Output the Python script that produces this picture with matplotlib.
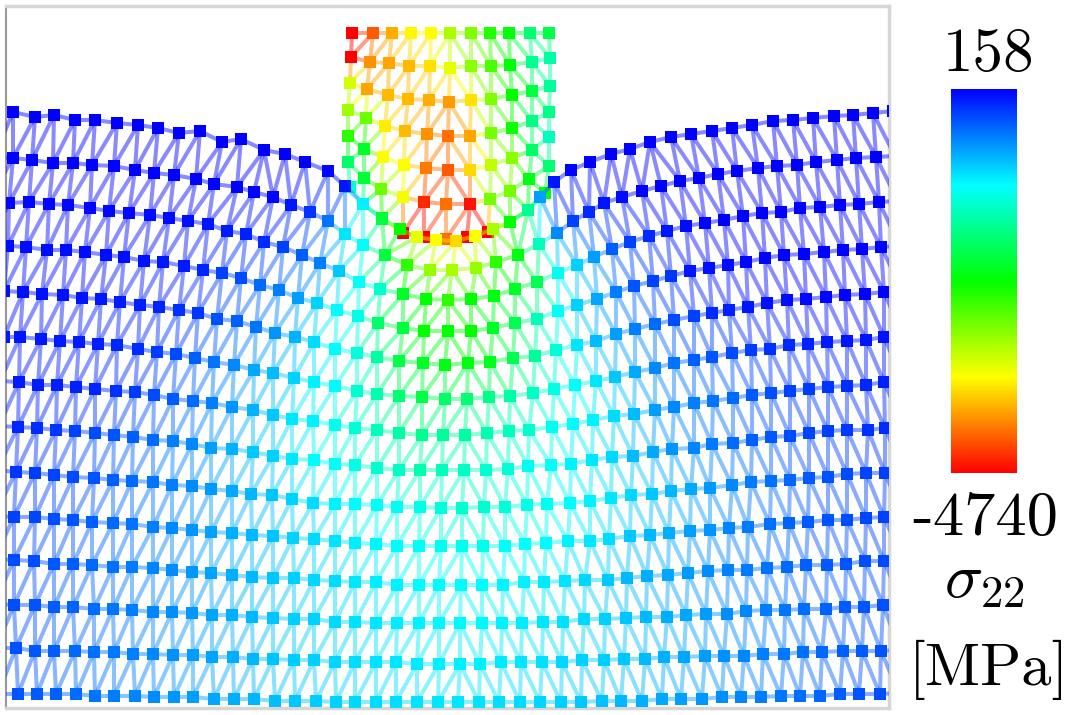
import numpy as np
import matplotlib
matplotlib.use('Agg')
import matplotlib.pyplot as plt
from matplotlib.collections import LineCollection
from matplotlib.colors import LinearSegmentedColormap, Normalize
from matplotlib.cm import ScalarMappable

plt.rcParams['mathtext.fontset'] = 'cm'

# nodes as (x, y, sigma_22), mesh coordinates
row_01 = [(13,112,158),(35,117,158),(54,115,158),(75,120,158),(95,120,158),(117,123,158),(138,125,158),(158,128,158),
          (179,133,158),(200,131,158),(222,142,158),(241,139,158),(264,150,158),(285,154,158),(305,162,158),(328,171,120),
          (345,186,50),(363,204,-1000),(382,219,-2000),(400,229,-2300),(417,237,-3400),(436,240,-3500),(456,241,-3700),
          (475,236,-3500),(493,229,-3100),(510,222,-2300),(528,210,-1600),(540,197,-600),(554,182,50),(571,170,130),
          (590,162,158),(611,154,158),(630,149,158),(650,142,158),(671,137,158),(691,134,158),(712,131,158),(732,128,158),
          (752,125,158),(773,121,158),(793,120,158),(813,118,158),(834,116,158),(853,115,158),(873,113,158),(893,111,158)]
row_02 = [(-6,157,140),(13,158,140),(32,160,140),(53,163,140),(73,163,140),(92,165,140),(114,166,140),(135,170,140),
          (154,173,140),(174,175,140),(196,179,140),(214,184,140),(237,187,140),(254,192,130),(273,197,130),(291,205,50),
          (310,212,-100),(328,221,-400),(345,234,-950),(363,245,-1100),(385,255,-2000),(407,265,-2500),(430,270,-3000),
          (452,270,-3100),(476,268,-3000),(496,262,-2500),(518,255,-2200),(539,244,-1400),(557,233,-500),(573,221,-150),
          (589,212,-50),(604,203,60),(622,197,100),(642,191,140),(661,186,150),(680,181,150),(699,178,150),(718,174,150),
          (737,171,150),(758,168,150),(777,166,150),(797,165,150),(816,162,150),(837,160,150),(856,158,150),(876,157,150),
          (895,156,150)]
row_03 = [(-11,201,120),(9,203,120),(29,202,120),(49,204,120),(68,205,120),(90,208,120),(109,211,120),(129,213,120),
          (150,215,100),(169,218,100),(188,221,80),(208,224,50),(227,231,30),(246,234,0),(264,242,-50),(283,247,-150),
          (302,255,-300),(320,263,-450),(339,271,-800),(359,282,-1100),(380,289,-1300),(403,294,-2100),(426,299,-2300),
          (448,300,-2500),(471,299,-2300),(494,296,-2200),(515,289,-2100),(537,282,-1900),(558,273,-1150),(577,265,-850),
          (594,257,-600),(612,249,-300),(630,242,-150),(649,236,-50),(667,231,50),(686,226,100),(705,223,130),(724,220,150),
          (743,216,150),(762,213,150),(781,212,150),(800,208,150),(820,207,150),(840,205,150),(859,204,150),(879,202,150),
          (898,201,150)]
row_04 = [(-11,245,100),(8,246,100),(26,247,100),(47,250,100),(66,250,100),(85,252,100),(106,255,90),(124,257,80),
          (144,261,70),(163,262,50),(184,266,30),(203,270,-30),(222,273,-150),(241,278,-200),(260,285,-350),(279,290,-450),
          (298,298,-600),(317,303,-850),(337,310,-1050),(358,316,-1200),(378,323,-1800),(403,328,-2000),(424,331,-2300),
          (448,331,-2300),(471,331,-2300),(493,328,-2100),(515,323,-1900),(537,319,-1400),(558,311,-1100),(577,305,-850),
          (597,299,-650),(616,292,-450),(634,286,-250),(653,281,-150),(671,276,-100),(690,271,50),(709,268,80),(728,265,100),
          (746,262,120),(765,258,130),(784,255,140),(804,254,140),(824,252,140),(843,250,140),(862,249,140),(881,247,140),
          (900,246,140)]
row_05 = [(4,291,80),(23,292,80),(42,294,80),(63,295,70),(82,298,60),(101,299,40),(120,302,20),(140,305,0),(159,307,-20),
          (179,310,-80),(198,313,-100),(217,319,-230),(237,321,-300),(256,327,-400),(275,333,-550),(295,337,-700),
          (314,342,-900),(335,349,-1050),(357,353,-1250),(377,357,-1500),(399,361,-1950),(423,363,-2100),(445,365,-2200),
          (468,363,-2200),(490,362,-2150),(513,358,-1900),(535,356,-1550),(556,350,-1250),(577,345,-950),(596,341,-750),
          (616,334,-600),(635,329,-450),(655,324,-350),(674,320,-200),(694,316,-150),(712,313,-50),(729,310,0),(748,307,50),
          (767,303,80),(787,300,100),(806,299,110),(826,297,120),(845,295,130),(865,294,130),(884,292,130),(903,291,130)]
row_06 = [(-15,336,50),(4,337,50),(20,337,50),(41,339,40),(60,341,30),(79,342,20),(98,344,0),(117,345,-30),(138,349,-60),
          (157,352,-130),(176,354,-200),(195,358,-300),(214,362,-400),(234,365,-500),(254,370,-650),(273,373,-750),
          (294,378,-850),(314,382,-1000),(335,386,-1050),(357,391,-1300),(377,394,-1450),(399,396,-1750),(422,397,-1950),
          (445,399,-1800),(467,399,-1750),(489,397,-1650),(510,396,-1500),(533,393,-1350),(554,389,-1200),(575,385,-1100),
          (596,381,-950),(615,377,-800),(635,372,-650),(655,368,-500),(674,363,-400),(694,360,-300),(712,357,-250),
          (732,353,-200),(751,350,-130),(770,349,-80),(789,345,-50),(808,344,0),(827,342,30),(847,341,50),(866,340,60),
          (884,337,70),(903,336,70)]
row_07 = [(0,381,30),(19,382,30),(38,385,20),(57,385,10),(76,387,0),(95,389,-20),(116,391,-80),(135,392,-120),(154,395,-200),
          (173,399,-280),(193,401,-350),(212,403,-450),(232,407,-550),(253,410,-700),(273,415,-800),(292,419,-950),
          (313,421,-1000),(335,425,-1150),(355,428,-1250),(377,430,-1400),(399,433,-1500),(422,435,-1600),(443,435,-1550),
          (465,435,-1500),(487,433,-1450),(509,431,-1400),(529,430,-1300),(552,427,-1150),(573,424,-1050),(593,420,-1000),
          (614,416,-900),(634,414,-750),(655,410,-600),(674,407,-500),(694,403,-450),(713,401,-400),(733,398,-350),
          (752,395,-280),(771,393,-220),(790,391,-150),(809,389,-130),(828,387,-100),(847,386,-70),(866,385,-30),(884,382,0),
          (903,381,0)]
row_08 = [(-1,426,-30),(18,427,-30),(37,428,-60),(56,430,-100),(75,431,-150),(95,433,-200),(114,435,-250),(133,437,-300),
          (153,440,-350),(173,441,-450),(192,444,-500),(211,448,-600),(232,449,-700),(253,452,-800),(273,456,-850),
          (292,459,-950),(314,460,-1050),(335,464,-1100),(355,465,-1200),(377,468,-1300),(399,470,-1350),(420,470,-1450),
          (442,470,-1400),(464,470,-1350),(486,470,-1300),(508,469,-1250),(528,466,-1150),(551,465,-1100),(571,464,-1000),
          (592,460,-950),(612,457,-880),(633,456,-750),(653,452,-650),(672,449,-550),(694,448,-480),(712,444,-420),
          (733,443,-360),(752,440,-300),(771,437,-260),(790,436,-210),(809,433,-170),(828,431,-140),(847,430,-110),
          (868,430,-80),(885,428,-60),(904,427,-60)]
row_09 = [(-3,470,-100),(16,472,-100),(35,473,-130),(54,475,-170),(73,477,-200),(94,478,-250),(113,480,-300),(132,481,-350),
          (153,482,-400),(172,485,-450),(192,486,-520),(211,489,-580),(232,491,-650),(251,494,-720),(272,495,-780),
          (292,499,-850),(313,503,-900),(335,504,-1000),(355,504,-1050),(377,505,-1100),(397,507,-1150),(420,507,-1200),
          (441,508,-1250),(462,508,-1300),(484,507,-1300),(505,507,-1250),(527,505,-1200),(547,504,-1150),(570,503,-1050),
          (590,501,-1000),(611,498,-950),(631,495,-880),(652,494,-800),(671,491,-720),(691,489,-650),(710,488,-580),
          (732,485,-500),(751,482,-430),(771,481,-380),(790,480,-330),(809,478,-280),(828,477,-240),(847,474,-200),
          (866,473,-170),(885,473,-140),(904,472,-140)]
row_10 = [(-6,516,-150),(14,517,-150),(35,517,-180),(54,519,-220),(73,520,-250),(92,522,-300),(113,523,-350),(132,524,-400),
          (153,527,-450),(172,528,-500),(192,530,-550),(211,532,-620),(232,533,-680),(252,535,-730),(273,536,-780),
          (293,538,-850),(314,539,-880),(335,541,-930),(355,543,-980),(376,544,-1020),(397,546,-1050),(419,546,-1100),
          (441,546,-1150),(462,546,-1150),(483,546,-1150),(505,546,-1100),(525,544,-1080),(546,543,-1050),(568,541,-1000),
          (590,541,-950),(609,539,-900),(630,536,-800),(650,535,-730),(669,533,-680),(690,531,-600),(710,530,-550),
          (729,528,-480),(748,527,-430),(770,524,-380),(789,523,-320),(808,522,-280),(828,520,-240),(847,520,-210),
          (866,518,-180),(884,517,-150),(903,516,-150)]
row_11 = [(-6,559,-200),(14,560,-200),(34,561,-220),(54,564,-260),(73,564,-300),(92,565,-340),(113,567,-380),(132,567,-430),
          (153,568,-480),(172,570,-520),(192,572,-570),(211,573,-620),(232,575,-680),(252,577,-730),(273,578,-790),
          (294,578,-840),(314,580,-870),(335,581,-900),(355,582,-950),(376,582,-980),(397,585,-1000),(419,585,-1050),
          (439,585,-1050),(461,585,-1050),(482,585,-1050),(503,585,-1020),(524,582,-1000),(544,582,-970),(565,581,-930),
          (585,580,-880),(608,580,-800),(627,578,-730),(647,576,-680),(668,575,-640),(688,573,-580),(708,571,-520),
          (728,570,-470),(747,570,-430),(767,568,-390),(787,567,-350),(806,565,-310),(827,565,-280),(846,564,-250),
          (865,561,-220),(884,561,-190),(903,560,-190)]
row_12 = [(-6,604,-220),(14,605,-220),(35,605,-250),(54,607,-290),(73,607,-320),(94,609,-360),(113,609,-410),(132,610,-450),
          (153,612,-490),(172,612,-530),(192,613,-570),(212,615,-630),(232,615,-680),(252,617,-730),(273,618,-780),
          (294,619,-830),(314,619,-850),(335,622,-880),(355,622,-920),(376,623,-950),(397,623,-980),(419,623,-1000),
          (439,623,-1030),(460,623,-1030),(482,623,-1030),(502,623,-1000),(522,623,-980),(543,622,-950),(563,622,-920),
          (584,619,-880),(605,619,-840),(626,618,-790),(646,617,-740),(667,617,-680),(686,615,-640),(706,614,-590),
          (727,614,-530),(746,611,-490),(766,610,-450),(785,610,-410),(804,609,-370),(826,609,-320),(845,607,-290),
          (864,607,-260),(883,605,-230),(902,604,-200)]
row_13 = [(-4,648,-230),(16,648,-230),(35,651,-260),(54,651,-300),(75,651,-340),(94,652,-380),(114,652,-420),(133,654,-460),
          (153,654,-500),(173,655,-540),(193,655,-590),(212,657,-630),(233,657,-680),(253,659,-720),(273,659,-770),
          (294,660,-820),(314,660,-840),(335,662,-870),(355,662,-900),(376,662,-930),(396,662,-950),(417,664,-970),
          (439,664,-990),(460,664,-990),(480,664,-990),(501,662,-970),(521,662,-950),(542,662,-920),(562,662,-880),
          (582,660,-850),(604,660,-830),(624,659,-790),(645,659,-740),(664,657,-690),(684,657,-640),(705,656,-590),
          (724,656,-540),(744,656,-490),(763,654,-460),(784,654,-420),(803,652,-380),(822,652,-340),(843,651,-300),
          (862,651,-270),(881,651,-240),(900,650,-210)]
row_14 = [(-2,694,-250),(18,694,-250),(37,694,-280),(56,694,-310),(76,694,-360),(95,696,-400),(114,696,-440),(135,696,-480),
          (154,697,-520),(174,697,-560),(193,697,-600),(214,699,-640),(234,699,-680),(254,699,-720),(275,701,-760),
          (295,701,-790),(316,701,-820),(336,702,-850),(355,702,-880),(376,702,-900),(396,702,-910),(417,702,-930),
          (438,702,-950),(458,702,-950),(479,702,-930),(499,702,-910),(520,702,-890),(540,702,-870),(561,702,-840),
          (581,702,-800),(602,701,-770),(621,701,-730),(642,701,-690),(662,699,-650),(681,699,-610),(702,699,-570),
          (722,697,-530),(741,697,-490),(761,697,-450),(781,696,-410),(800,696,-370),(820,696,-330),(840,694,-290),
          (859,694,-250),(880,694,-220),(899,693,-220)]
substrate = [row_01, row_02, row_03, row_04, row_05, row_06, row_07, row_08, row_09, row_10, row_11, row_12, row_13, row_14]

punch_1 = [(352,33,-4740),(373,33,-4300),(392,33,-3900),(411,33,-3550),(431,33,-3500),(450,33,-3100),(471,33,-2900),
           (490,33,-2450),(509,33,-2250),(530,33,-1750),(549,33,-1950)]
punch_2 = [(351,57,-4740),(370,62,-4050),(389,63,-3950),(409,66,-3850),(430,66,-3650),(450,68,-3400),(471,66,-2950),
           (491,66,-2650),(510,65,-2250),(532,62,-1600),(550,58,-1500)]
punch_3 = [(350,83,-3300),(367,89,-3950),(388,95,-3850),(408,99,-3850),(429,100,-3900),(449,102,-4000),(471,100,-3650),
           (491,99,-2900),(512,95,-2300),(532,91,-2000),(550,86,-1550)]
punch_4 = [(348,110,-3050),(366,118,-2800),(385,126,-3600),(405,131,-3850),(427,134,-4050),(448,136,-4200),(470,136,-3950),
           (491,133,-2850),(512,128,-2350),(532,121,-1650),(549,112,-1650)]
punch_5 = [(348,136,-2500),(364,149,-2100),(383,157,-3500),(404,165,-3500),(426,168,-4150),(448,170,-4300),(470,170,-3700),
           (491,165,-3200),(512,158,-2950),(532,150,-1800),(549,137,-1400)]
punch_6 = [(348,162,-1800),(364,178,-2050),(381,189,-2800),(403,197,-3450),(424,202,-4550),(446,204,-4200),(470,204,-4650),
           (490,199,-2850),(510,191,-2850),(529,179,-2200),(549,166,-1750)]
punch_7 = [(350,187,-1300),(363,204,-1200),(382,218,-2200),(403,233,-4740),(424,237,-4740),(446,239,-4200),(467,237,-4740),
           (488,232,-4740),(510,222,-2300),(528,210,-2100),(545,193,-2250)]
punch = [punch_1, punch_2, punch_3, punch_4, punch_5, punch_6, punch_7]

bar_top = 158
bar_bottom = -4740
bar_labels = ['158', '-4740']

cmap = LinearSegmentedColormap.from_list('stress', ['#ff0000', '#ffff00', '#00ff00', '#00ffff', '#0000ff'], N=512)
norm = Normalize(bar_bottom, bar_top)


def mesh_edges(rows):
    # links along every row and a zigzag between neighbouring rows,
    # the diagonals lean towards the middle of the block
    edges = []
    for row in rows:
        edges += list(zip(row[:-1], row[1:]))
    for a, b in zip(rows[:-1], rows[1:]):
        i = j = 0
        edges.append((a[0], b[0]))
        while i < len(a) - 1 or j < len(b) - 1:
            if j == len(b) - 1:
                i += 1
            elif i == len(a) - 1:
                j += 1
            else:
                bias = 10 if a[i][0] < 447 else -10
                if a[i + 1][0] <= b[j + 1][0] + bias:
                    i += 1
                else:
                    j += 1
            edges.append((a[i], b[j]))
    return edges


def draw_mesh(ax, rows, z):
    edges = mesh_edges(rows)
    segs = [[(p[0], p[1]), (q[0], q[1])] for p, q in edges]
    vals = [(p[2] + q[2]) / 2 for p, q in edges]
    lc = LineCollection(segs, array=np.array(vals), cmap=cmap, norm=norm, linewidths=2.9, alpha=0.46, zorder=z)
    ax.add_collection(lc)
    nodes = np.array([p for row in rows for p in row])
    ax.scatter(nodes[:, 0], nodes[:, 1], c=nodes[:, 2], cmap=cmap, norm=norm, marker='s', s=76, linewidths=0, zorder=z + 1)


W, H = 1069, 715
fig = plt.figure(figsize=(W / 100, H / 100), dpi=100)

ax = fig.add_axes([6 / W, 1 - 708 / H, (889 - 6) / W, (708 - 6) / H])
ax.set_xlim(6, 889)
ax.set_ylim(708, 6)
ax.set_xticks([])
ax.set_yticks([])
for s in ax.spines.values():
    s.set_color('#d6d6d6')
    s.set_linewidth(2.5)
ax.spines['left'].set_linestyle((0, (1, 1)))
ax.spines['left'].set_color('#999999')
ax.spines['left'].set_linewidth(1.5)

draw_mesh(ax, punch, 2)
draw_mesh(ax, substrate, 4)

cax = fig.add_axes([951 / W, 1 - 473 / H, 66 / W, 384 / H])
cb = fig.colorbar(ScalarMappable(norm=norm, cmap=cmap), cax=cax)
cb.set_ticks([])
cb.outline.set_visible(False)

fig.text(989 / W, 1 - 71 / H, bar_labels[0], family='cmr10', fontsize=44, ha='center', va='baseline')
fig.text(985 / W, 1 - 535 / H, bar_labels[1], family='cmr10', fontsize=45, ha='center', va='baseline')
fig.text(984 / W, 1 - 597 / H, r'$\sigma_{22}$', fontsize=46, ha='center', va='baseline')
fig.text(989 / W, 1 - 685 / H, '[MPa]', family='cmr10', fontsize=43.5, ha='center', va='baseline')

fig.savefig('out.png', dpi=100)
